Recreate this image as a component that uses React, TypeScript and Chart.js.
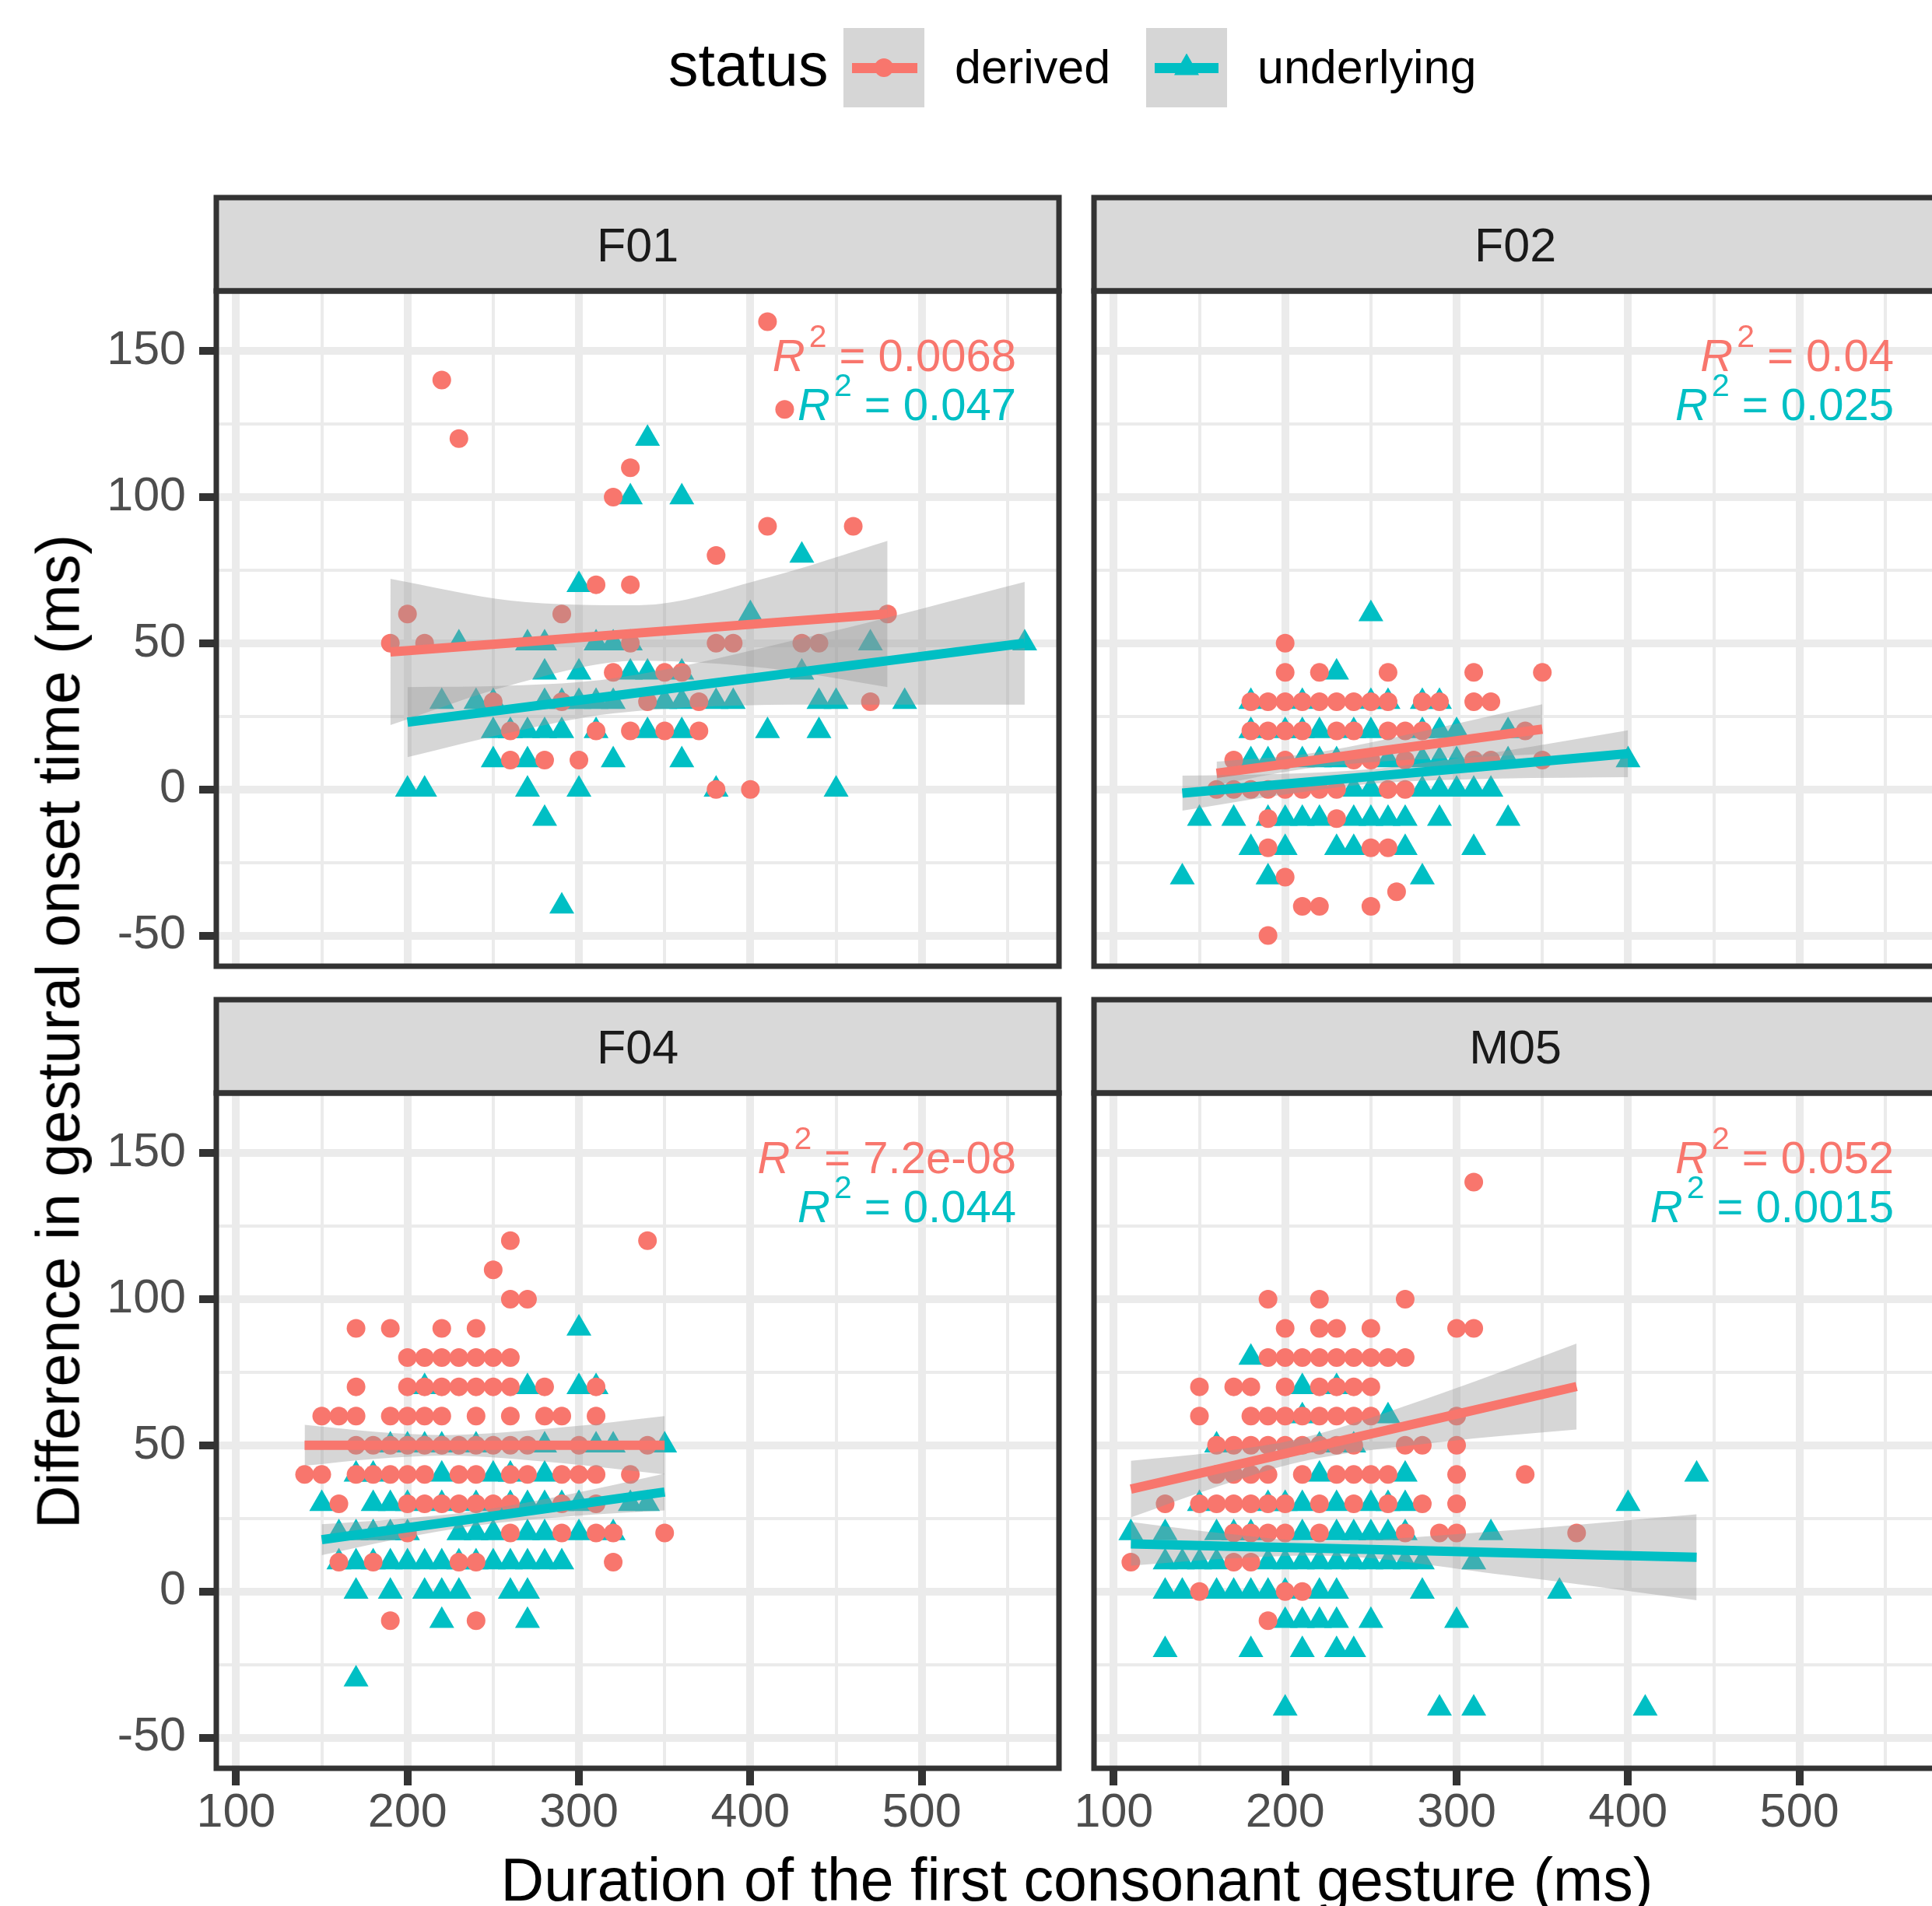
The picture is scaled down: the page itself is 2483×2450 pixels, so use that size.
import React, { useEffect, useRef } from "react";
import { Chart, registerables } from "chart.js";

Chart.register(...registerables);

const FONT = '"Liberation Sans", Arial, Helvetica, sans-serif';
const RED = "#F8766D";
const CYAN = "#00BFC4";
const BAND = "rgba(153,153,153,0.4)";
const DARK = "#333333";
const GRID = "#EBEBEB";

// ---------- axes ----------
const X_TICKS = [100, 150, 200, 250, 300, 350, 400, 450, 500, 550];
const Y_TICKS = [-50, -25, 0, 25, 50, 75, 100, 125, 150];
const X_LIMITS = [88.5, 580];
const Y_LIMITS = [-60.5, 170.5];

const SPEAKERS = ["F01", "F02", "F04", "M05"];
const STATUS = ["derived", "underlying"];
const R2_DERIVED = ["0.0068", "0.04", "7.2e-08", "0.052"];
const R2_UNDERLYING = ["0.047", "0.025", "0.044", "0.0015"];

type P = [number, number];

// ---------- points (duration, difference) ----------
const F01_DERIVED: P[] = [
  [410, 160], [220, 140], [230, 120], [420, 130], [330, 110], [320, 100], [410, 90], [460, 90],
  [380, 80], [310, 70], [330, 70], [200, 60], [290, 60], [480, 60],
  [190, 50], [210, 50], [330, 50], [380, 50], [390, 50], [430, 50], [440, 50],
  [320, 40], [350, 40], [360, 40],
  [250, 30], [290, 30], [340, 30], [370, 30], [470, 30],
  [260, 20], [310, 20], [330, 20], [350, 20], [370, 20],
  [260, 10], [280, 10], [300, 10],
  [380, 0], [400, 0],
];
const F01_UNDERLYING: P[] = [
  [340, 120], [330, 100], [360, 100], [430, 80], [300, 70], [400, 60], [560, 50], [470, 50],
  [230, 50], [270, 50], [280, 50], [310, 50], [320, 50], [330, 50],
  [280, 40], [300, 40], [330, 40], [340, 40], [360, 40], [430, 40],
  [220, 30], [240, 30], [250, 30], [280, 30], [290, 30], [300, 30], [310, 30], [320, 30], [350, 30],
  [360, 30], [380, 30], [390, 30], [440, 30], [450, 30], [490, 30],
  [250, 20], [260, 20], [270, 20], [280, 20], [290, 20], [310, 20], [340, 20], [360, 20], [410, 20], [440, 20],
  [250, 10], [270, 10], [320, 10], [360, 10],
  [200, 0], [210, 0], [270, 0], [300, 0], [380, 0], [450, 0],
  [280, -10], [290, -40],
];
const F02_DERIVED: P[] = [
  [200, 50],
  [200, 40], [220, 40], [260, 40], [310, 40], [350, 40],
  [180, 30], [190, 30], [200, 30], [210, 30], [220, 30], [230, 30], [240, 30], [250, 30], [260, 30],
  [280, 30], [290, 30], [310, 30], [320, 30],
  [180, 20], [190, 20], [200, 20], [210, 20], [230, 20], [240, 20], [260, 20], [270, 20], [280, 20], [340, 20],
  [170, 10], [200, 10], [240, 10], [250, 10], [270, 10], [310, 10], [320, 10], [350, 10],
  [160, 0], [170, 0], [180, 0], [190, 0], [200, 0], [210, 0], [220, 0], [230, 0], [260, 0], [270, 0],
  [190, -10], [230, -10],
  [190, -20], [250, -20], [260, -20],
  [200, -30], [265, -35], [210, -40], [220, -40], [250, -40], [190, -50],
];
const F02_UNDERLYING: P[] = [
  [250, 60], [230, 40],
  [180, 30], [210, 30], [250, 30], [260, 30], [280, 30], [290, 30],
  [180, 20], [200, 20], [210, 20], [220, 20], [240, 20], [250, 20], [280, 20], [290, 20], [300, 20], [330, 20],
  [180, 10], [190, 10], [210, 10], [220, 10], [230, 10], [260, 10], [280, 10], [290, 10], [300, 10], [330, 10], [400, 10],
  [240, 0], [250, 0], [280, 0], [290, 0], [300, 0], [310, 0], [320, 0],
  [150, -10], [170, -10], [190, -10], [200, -10], [210, -10], [220, -10], [240, -10], [250, -10], [260, -10],
  [270, -10], [290, -10], [330, -10],
  [180, -20], [200, -20], [230, -20], [240, -20], [270, -20], [310, -20],
  [140, -30], [190, -30], [280, -30],
];
const F04_DERIVED: P[] = [
  [260, 120], [340, 120], [250, 110], [260, 100], [270, 100],
  [170, 90], [190, 90], [220, 90], [240, 90],
  [200, 80], [210, 80], [220, 80], [230, 80], [240, 80], [250, 80], [260, 80],
  [170, 70], [200, 70], [210, 70], [220, 70], [230, 70], [240, 70], [250, 70], [260, 70], [280, 70], [310, 70],
  [150, 60], [160, 60], [170, 60], [190, 60], [200, 60], [210, 60], [220, 60], [240, 60], [260, 60], [280, 60], [290, 60], [310, 60],
  [170, 50], [180, 50], [190, 50], [200, 50], [210, 50], [220, 50], [230, 50], [240, 50], [250, 50], [260, 50], [270, 50], [300, 50], [340, 50],
  [140, 40], [150, 40], [170, 40], [180, 40], [190, 40], [200, 40], [210, 40], [230, 40], [240, 40], [260, 40],
  [270, 40], [290, 40], [300, 40], [310, 40], [330, 40],
  [160, 30], [200, 30], [210, 30], [220, 30], [230, 30], [240, 30], [250, 30], [260, 30], [290, 30], [310, 30],
  [200, 20], [260, 20], [290, 20], [310, 20], [320, 20], [350, 20],
  [160, 10], [180, 10], [230, 10], [240, 10], [320, 10],
  [190, -10], [240, -10],
];
const F04_UNDERLYING: P[] = [
  [300, 90],
  [210, 70], [270, 70], [300, 70], [310, 70],
  [190, 50], [200, 50], [210, 50], [220, 50], [240, 50], [280, 50], [310, 50], [320, 50], [350, 50],
  [170, 40], [180, 40], [220, 40], [250, 40], [260, 40], [280, 40],
  [150, 30], [180, 30], [190, 30], [200, 30], [220, 30], [240, 30], [260, 30], [270, 30], [280, 30], [290, 30], [300, 30], [330, 30], [340, 30],
  [160, 20], [170, 20], [180, 20], [190, 20], [200, 20], [230, 20], [240, 20], [250, 20], [270, 20], [280, 20], [300, 20], [320, 20],
  [160, 10], [170, 10], [180, 10], [190, 10], [200, 10], [210, 10], [220, 10], [230, 10], [240, 10], [250, 10],
  [260, 10], [270, 10], [280, 10], [290, 10],
  [170, 0], [190, 0], [210, 0], [220, 0], [230, 0], [260, 0], [270, 0],
  [220, -10], [270, -10], [170, -30],
];
const M05_DERIVED: P[] = [
  [310, 140],
  [190, 100], [220, 100], [270, 100],
  [200, 90], [220, 90], [230, 90], [250, 90], [300, 90], [310, 90],
  [190, 80], [200, 80], [210, 80], [220, 80], [230, 80], [240, 80], [250, 80], [260, 80], [270, 80],
  [150, 70], [170, 70], [180, 70], [200, 70], [220, 70], [230, 70], [240, 70], [250, 70],
  [150, 60], [180, 60], [190, 60], [200, 60], [210, 60], [220, 60], [230, 60], [240, 60], [250, 60], [300, 60],
  [160, 50], [170, 50], [180, 50], [190, 50], [200, 50], [210, 50], [220, 50], [230, 50], [240, 50], [270, 50], [280, 50], [300, 50],
  [160, 40], [170, 40], [180, 40], [190, 40], [210, 40], [230, 40], [240, 40], [250, 40], [260, 40], [300, 40], [340, 40],
  [130, 30], [150, 30], [160, 30], [170, 30], [180, 30], [190, 30], [200, 30], [220, 30], [240, 30], [260, 30], [280, 30], [300, 30],
  [170, 20], [180, 20], [190, 20], [200, 20], [220, 20], [270, 20], [290, 20], [300, 20], [370, 20],
  [110, 10], [170, 10], [180, 10],
  [150, 0], [200, 0], [210, 0],
  [190, -10],
];
const M05_UNDERLYING: P[] = [
  [180, 80], [210, 70], [230, 70], [210, 60], [260, 60],
  [160, 50], [220, 50], [240, 50],
  [220, 40], [270, 40], [440, 40],
  [150, 30], [190, 30], [200, 30], [210, 30], [230, 30], [250, 30], [260, 30], [270, 30], [400, 30],
  [110, 20], [130, 20], [160, 20], [170, 20], [180, 20], [210, 20], [230, 20], [240, 20], [250, 20], [260, 20], [270, 20], [320, 20],
  [130, 10], [140, 10], [150, 10], [160, 10], [190, 10], [200, 10], [210, 10], [220, 10], [230, 10], [240, 10],
  [250, 10], [260, 10], [270, 10], [280, 10], [310, 10],
  [130, 0], [140, 0], [160, 0], [170, 0], [180, 0], [190, 0], [200, 0], [220, 0], [230, 0], [280, 0], [360, 0],
  [200, -10], [210, -10], [220, -10], [230, -10], [250, -10], [300, -10],
  [130, -20], [180, -20], [210, -20], [230, -20], [240, -20],
  [200, -40], [290, -40], [310, -40], [410, -40],
];

// ---------- linear fits with confidence bands ----------
type Fit = { x: number[]; fit: number[]; lo: number[]; hi: number[] };
const F01_DERIVED_FIT: Fit = { x: [190, 260, 335, 410, 480], fit: [47, 50.1, 53.5, 56.9, 60], lo: [22, 35.6, 44, 41.4, 35], hi: [72, 64.6, 63, 72.4, 85] };
const F01_UNDERLYING_FIT: Fit = { x: [200, 260, 320, 440, 560], fit: [23, 27.5, 32, 41, 50], lo: [11, 19.5, 26, 29, 29], hi: [35, 35.5, 38, 53, 71] };
const F02_DERIVED_FIT: Fit = { x: [160, 212, 260, 305, 350], fit: [5.5, 9.6, 13.5, 17.0, 20.6], lo: [1.5, 7.1, 9.7, 10.9, 12.1], hi: [9.5, 12.1, 17.3, 23.1, 29.1] };
const F02_UNDERLYING_FIT: Fit = { x: [140, 195, 250, 325, 400], fit: [-1.3, 1.55, 4.4, 8.3, 12.2], lo: [-7.3, -2.15, 1.9, 3.7, 4.2], hi: [4.7, 5.25, 6.9, 12.9, 20.2] };
const F04_DERIVED_FIT: Fit = { x: [140, 180, 222, 290, 350], fit: [50, 50, 50, 50, 50], lo: [43, 45.3, 46.5, 43.9, 40], hi: [57, 54.7, 53.5, 56.1, 60] };
const F04_UNDERLYING_FIT: Fit = { x: [150, 195, 240, 295, 350], fit: [17.7, 21.4, 25.0, 29.5, 34], lo: [12.4, 18.0, 22.5, 25.7, 27.7], hi: [23.0, 24.8, 27.5, 33.3, 40.3] };
const M05_DERIVED_FIT: Fit = { x: [110, 160, 210, 290, 370], fit: [35, 41.75, 48.5, 59.3, 70.1], lo: [25.3, 35.8, 44.5, 51.1, 55.4], hi: [44.7, 47.7, 52.5, 67.5, 84.8] };
const M05_UNDERLYING_FIT: Fit = { x: [110, 165, 218, 330, 440], fit: [16.3, 15.5, 14.8, 13.2, 11.7], lo: [8.8, 11.2, 12.3, 5.5, -3.0], hi: [23.8, 19.8, 17.3, 20.9, 26.4] };

const PANEL_DERIVED = [F01_DERIVED, F02_DERIVED, F04_DERIVED, M05_DERIVED];
const PANEL_UNDERLYING = [F01_UNDERLYING, F02_UNDERLYING, F04_UNDERLYING, M05_UNDERLYING];
const PANEL_DERIVED_FIT = [F01_DERIVED_FIT, F02_DERIVED_FIT, F04_DERIVED_FIT, M05_DERIVED_FIT];
const PANEL_UNDERLYING_FIT = [F01_UNDERLYING_FIT, F02_UNDERLYING_FIT, F04_UNDERLYING_FIT, M05_UNDERLYING_FIT];

// ---------- layout ----------
const PANEL_W = 1083;
const PANEL_H = 868;
const STRIP_H = 120;
const COL_LEFT = [278, 1406];
const ROW_TOP = [374, 1405];

function geom(col: number, row: number) {
  const padL = col === 0 ? 278 : 40;
  const padT = STRIP_H + 14;
  const padR = 20;
  const axisH = row === 1 ? 120 : 0;
  const padB = row === 1 ? 0 : 60;
  return {
    left: COL_LEFT[col] - padL,
    top: ROW_TOP[row] - padT,
    w: padL + PANEL_W + padR,
    h: padT + PANEL_H + axisH + padB,
    padL, padT, padR, padB, axisH,
  };
}

function drawR2(ctx: CanvasRenderingContext2D, value: string, color: string, right: number, baseline: number) {
  const main = `58px ${FONT}`;
  const ital = `italic 58px ${FONT}`;
  const sup = `41px ${FONT}`;
  const rest = ` = ${value}`;
  ctx.fillStyle = color;
  ctx.textAlign = "left";
  ctx.textBaseline = "alphabetic";
  ctx.font = ital;
  const wR = ctx.measureText("R").width;
  ctx.font = sup;
  const w2 = ctx.measureText("2").width;
  ctx.font = main;
  const wRest = ctx.measureText(rest).width;
  let x = right - (wR + 5 + w2 + wRest);
  ctx.font = ital;
  ctx.fillText("R", x, baseline);
  x += wR + 5;
  ctx.font = sup;
  ctx.fillText("2", x, baseline - 31);
  x += w2;
  ctx.font = main;
  ctx.fillText(rest, x, baseline);
}

const toXY = (pts: P[]) => pts.map(([x, y]) => ({ x, y }));
const series = (xs: number[], ys: number[]) => xs.map((x, i) => ({ x, y: ys[i] }));
const isMajorX = (v: any) => typeof v === "number" && v % 100 === 0;
const isMajorY = (v: any) => typeof v === "number" && v % 50 === 0;

function createPanel(canvas: HTMLCanvasElement, i: number) {
  const col = i % 2;
  const row = Math.floor(i / 2);
  const g = geom(col, row);
  const dFit = PANEL_DERIVED_FIT[i];
  const uFit = PANEL_UNDERLYING_FIT[i];

  const decor = {
    id: "panelDecor" + i,
    afterDraw(chart: any) {
      const ctx: CanvasRenderingContext2D = chart.ctx;
      const a = chart.chartArea;
      ctx.save();
      // strip
      ctx.fillStyle = "#D9D9D9";
      ctx.fillRect(a.left, a.top - STRIP_H, a.right - a.left, STRIP_H);
      ctx.lineWidth = 7;
      ctx.strokeStyle = DARK;
      ctx.strokeRect(a.left, a.top - STRIP_H, a.right - a.left, STRIP_H);
      ctx.fillStyle = "#1A1A1A";
      ctx.font = `61px ${FONT}`;
      ctx.textAlign = "center";
      ctx.textBaseline = "alphabetic";
      ctx.fillText(SPEAKERS[i], (a.left + a.right) / 2, a.top - STRIP_H / 2 + 22);
      // R^2 annotations
      drawR2(ctx, R2_DERIVED[i], RED, a.right - 55, a.top + 103);
      drawR2(ctx, R2_UNDERLYING[i], CYAN, a.right - 55, a.top + 166);
      // panel border
      ctx.lineWidth = 7;
      ctx.strokeStyle = DARK;
      ctx.strokeRect(a.left, a.top, a.right - a.left, a.bottom - a.top);
      ctx.restore();
    },
  };

  const tickFont = { family: FONT, size: 61 };

  return new Chart(canvas, {
    type: "scatter",
    data: {
      datasets: [
        {
          label: STATUS[1],
          data: toXY(PANEL_UNDERLYING[i]),
          pointStyle: "triangle",
          pointRadius: 18.5,
          backgroundColor: CYAN,
          borderWidth: 0,
          order: 6,
        } as any,
        {
          label: STATUS[0],
          data: toXY(PANEL_DERIVED[i]),
          pointStyle: "circle",
          pointRadius: 12,
          backgroundColor: RED,
          borderWidth: 0,
          order: 5,
        },
        {
          type: "line",
          data: series(dFit.x, dFit.lo),
          borderColor: "rgba(0,0,0,0)",
          borderWidth: 0,
          pointRadius: 0,
          fill: false,
          cubicInterpolationMode: "monotone",
          order: 4,
        },
        {
          type: "line",
          data: series(dFit.x, dFit.hi),
          borderColor: "rgba(0,0,0,0)",
          borderWidth: 0,
          pointRadius: 0,
          fill: "-1",
          backgroundColor: BAND,
          cubicInterpolationMode: "monotone",
          order: 4,
        },
        {
          type: "line",
          data: series(dFit.x, dFit.fit),
          borderColor: RED,
          borderWidth: 12,
          pointRadius: 0,
          fill: false,
          tension: 0,
          order: 3,
        },
        {
          type: "line",
          data: series(uFit.x, uFit.lo),
          borderColor: "rgba(0,0,0,0)",
          borderWidth: 0,
          pointRadius: 0,
          fill: false,
          cubicInterpolationMode: "monotone",
          order: 2,
        },
        {
          type: "line",
          data: series(uFit.x, uFit.hi),
          borderColor: "rgba(0,0,0,0)",
          borderWidth: 0,
          pointRadius: 0,
          fill: "-1",
          backgroundColor: BAND,
          cubicInterpolationMode: "monotone",
          order: 2,
        },
        {
          type: "line",
          data: series(uFit.x, uFit.fit),
          borderColor: CYAN,
          borderWidth: 12,
          pointRadius: 0,
          fill: false,
          tension: 0,
          order: 1,
        },
      ] as any,
    },
    options: {
      animation: false,
      responsive: false,
      maintainAspectRatio: false,
      devicePixelRatio: 1,
      events: [],
      layout: {
        autoPadding: false,
        padding: { left: col === 0 ? 0 : g.padL, top: g.padT, right: g.padR, bottom: g.padB },
      },
      plugins: {
        legend: { display: false },
        tooltip: { enabled: false },
        title: { display: false },
      },
      scales: {
        x: {
          type: "linear",
          min: X_LIMITS[0],
          max: X_LIMITS[1],
          afterBuildTicks: (s: any) => {
            s.ticks = X_TICKS.map((v) => ({ value: v }));
          },
          afterFit: (s: any) => {
            s.height = g.axisH;
          },
          border: { display: false },
          grid: {
            color: GRID,
            lineWidth: (c: any) => (isMajorX(c.tick && c.tick.value) ? 10 : 4),
            drawTicks: row === 1,
            tickLength: 22,
            tickWidth: (c: any) => (isMajorX(c.tick && c.tick.value) ? 10 : 0),
            tickColor: (c: any) => (isMajorX(c.tick && c.tick.value) ? DARK : "rgba(0,0,0,0)"),
          },
          ticks: {
            display: row === 1,
            autoSkip: false,
            maxRotation: 0,
            minRotation: 0,
            padding: 0,
            color: "#4D4D4D",
            font: tickFont,
            callback: (v: any) => (isMajorX(v) ? String(v) : ""),
          },
        },
        y: {
          type: "linear",
          position: "left",
          min: Y_LIMITS[0],
          max: Y_LIMITS[1],
          afterBuildTicks: (s: any) => {
            s.ticks = Y_TICKS.map((v) => ({ value: v }));
          },
          afterFit: (s: any) => {
            s.width = col === 0 ? g.padL : 0;
          },
          border: { display: false },
          grid: {
            color: GRID,
            lineWidth: (c: any) => (isMajorY(c.tick && c.tick.value) ? 10 : 4),
            drawTicks: col === 0,
            tickLength: 22,
            tickWidth: (c: any) => (isMajorY(c.tick && c.tick.value) ? 10 : 0),
            tickColor: (c: any) => (isMajorY(c.tick && c.tick.value) ? DARK : "rgba(0,0,0,0)"),
          },
          ticks: {
            display: col === 0,
            autoSkip: false,
            padding: 17,
            color: "#4D4D4D",
            font: tickFont,
            callback: (v: any) => (isMajorY(v) ? String(v) : ""),
          },
        },
      },
    } as any,
    plugins: [decor],
  });
}

function Legend() {
  const text = (s: string, left: number, baseline: number, size: number) => (
    <div
      style={{
        position: "absolute",
        left,
        top: baseline - 0.8465 * size,
        fontSize: size,
        lineHeight: `${size}px`,
        whiteSpace: "nowrap",
        color: "#000",
      }}
    >
      {s}
    </div>
  );
  return (
    <>
      {text("status", 859, 110, 77)}
      <div style={{ position: "absolute", left: 1084, top: 36, width: 104, height: 102, background: "#D6D6D6" }} />
      <div style={{ position: "absolute", left: 1095, top: 80.5, width: 84, height: 13, background: RED }} />
      <div style={{ position: "absolute", left: 1124, top: 75, width: 24, height: 24, borderRadius: "50%", background: RED }} />
      {text(STATUS[0], 1227, 108, 61)}
      <div style={{ position: "absolute", left: 1473, top: 36, width: 104, height: 102, background: "#D6D6D6" }} />
      <div style={{ position: "absolute", left: 1484, top: 80.5, width: 82, height: 13, background: CYAN }} />
      <div
        style={{
          position: "absolute",
          left: 1509,
          top: 68.5,
          width: 32,
          height: 28,
          background: CYAN,
          clipPath: "polygon(50% 0%, 100% 100%, 0% 100%)",
        }}
      />
      {text(STATUS[1], 1616, 108, 61)}
    </>
  );
}

export default function App() {
  const canvases = useRef<(HTMLCanvasElement | null)[]>([]);

  useEffect(() => {
    const charts = SPEAKERS.map((_, i) => {
      const c = canvases.current[i];
      return c ? createPanel(c, i) : null;
    });
    return () => {
      charts.forEach((c) => c && c.destroy());
    };
  }, []);

  return (
    <div
      style={{
        position: "fixed",
        left: 0,
        top: 0,
        width: 2483,
        height: 2450,
        overflow: "hidden",
        background: "#FFFFFF",
        fontFamily: FONT,
      }}
    >
      <Legend />
      {SPEAKERS.map((s, i) => {
        const g = geom(i % 2, Math.floor(i / 2));
        return (
          <canvas
            key={s}
            ref={(el) => {
              canvases.current[i] = el;
            }}
            width={g.w}
            height={g.h}
            style={{ position: "absolute", left: g.left, top: g.top, width: g.w, height: g.h, display: "block" }}
          />
        );
      })}
      <div
        style={{
          position: "absolute",
          left: 1384,
          top: 2443 - 0.8465 * 77,
          transform: "translateX(-50%)",
          fontSize: 77,
          lineHeight: "77px",
          whiteSpace: "nowrap",
          color: "#000",
        }}
      >
        Duration of the first consonant gesture (ms)
      </div>
      <div
        style={{
          position: "absolute",
          left: 75.3,
          top: 1326,
          transform: "translate(-50%, -50%) rotate(-90deg)",
          fontSize: 77,
          lineHeight: "77px",
          whiteSpace: "nowrap",
          color: "#000",
        }}
      >
        Difference in gestural onset time (ms)
      </div>
    </div>
  );
}
